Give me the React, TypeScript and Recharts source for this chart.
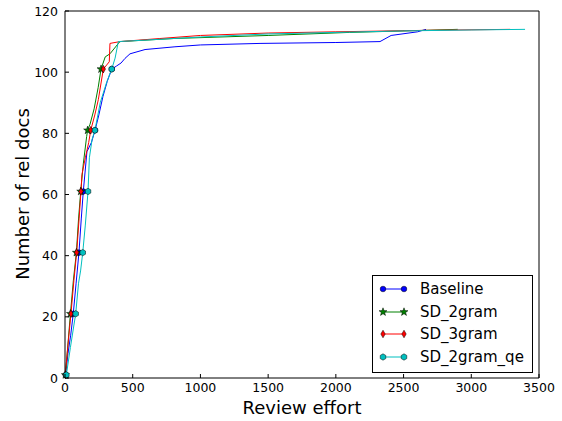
import React from "react";
import { LineChart, Line, XAxis, YAxis } from "recharts";

// x ticks / y ticks
const X_TICKS = [0, 500, 1000, 1500, 2000, 2500, 3000, 3500];
const Y_TICKS = [0, 20, 40, 60, 80, 100, 120];

// Baseline
const baselineEffort = [5, 22, 42, 61, 82, 103, 120, 135, 162, 195, 222, 250, 280, 312, 345, 380, 414, 443, 480, 591, 812, 1000, 1440, 2000, 2326, 2408, 2604, 2666];
const baselineDocs = [1, 8, 14, 21, 31, 41, 52, 61, 74, 77, 81, 86, 92, 97, 101, 102, 103, 104.5, 106, 107.4, 108.3, 108.9, 109.4, 109.7, 110, 112, 113.2, 114];

// SD_2gram
const twoGramEffort = [3, 18, 40, 62, 84, 100, 116, 135, 160, 167, 185, 215, 245, 266, 297, 332, 396, 406, 800, 1500, 2100, 2600, 2900];
const twoGramDocs = [1, 9, 21, 32, 41, 52, 61, 70, 79, 81, 83, 88, 95, 101, 105, 106, 109.5, 110, 111, 112, 113, 113.6, 114];

// SD_3gram
const threeGramEffort = [2, 20, 44, 66, 86, 104, 118, 125, 150, 175, 190, 220, 246, 283, 327, 332, 406, 700, 1000, 1500, 2000, 2700, 3287];
const threeGramDocs = [1, 10, 21, 32, 41, 52, 61, 66.5, 72, 77, 81, 86, 91, 101, 103.4, 109.4, 110, 111, 112, 112.8, 113.2, 113.7, 114];

// SD_2gram_qe
const qeEffort = [10, 40, 79, 100, 115, 131, 150, 170, 180, 200, 221, 260, 310, 345, 370, 394, 600, 1000, 1500, 2000, 2500, 3000, 3397];
const qeDocs = [1, 10, 21, 31, 35, 41, 50, 61, 72, 78, 81, 90, 97, 101, 104.6, 110, 110.5, 111.5, 112.5, 113, 113.5, 113.8, 114];

const SERIES = [
  { name: "Baseline", color: "#0000ff", shape: "circle", effort: baselineEffort, docs: baselineDocs },
  { name: "SD_2gram", color: "#008000", shape: "star", effort: twoGramEffort, docs: twoGramDocs },
  { name: "SD_3gram", color: "#ff0000", shape: "diamond", effort: threeGramEffort, docs: threeGramDocs },
  { name: "SD_2gram_qe", color: "#00bfbf", shape: "hexagon", effort: qeEffort, docs: qeDocs },
];

const FONT = "'DejaVu Sans', sans-serif";

const polyPoints = (n: number, outer: number, inner: number | null, rot = -Math.PI / 2) => {
  const pts: string[] = [];
  const count = inner == null ? n : n * 2;
  for (let i = 0; i < count; i++) {
    const r = inner == null ? outer : i % 2 === 0 ? outer : inner;
    const a = rot + (i * 2 * Math.PI) / count;
    pts.push(`${(r * Math.cos(a)).toFixed(2)},${(r * Math.sin(a)).toFixed(2)}`);
  }
  return pts.join(" ");
};

function Marker({ shape, color, x, y }: { shape: string; color: string; x: number; y: number }) {
  const common = { fill: color, stroke: "#000", strokeWidth: 0.5 };
  let el;
  if (shape === "circle") el = <circle r={2.8} {...common} />;
  else if (shape === "star") el = <polygon points={polyPoints(5, 4.2, 1.7)} {...common} />;
  else if (shape === "diamond") el = <polygon points="0,-3.8 2.2,0 0,3.8 -2.2,0" {...common} />;
  else el = <polygon points={polyPoints(6, 3.2, null)} {...common} />;
  return <g transform={`translate(${x},${y})`}>{el}</g>;
}

const makeDot = (shape: string, color: string) => (props: any) => {
  const { cx, cy, payload, index } = props;
  if (payload.docs % 20 !== 1) return <g key={index} />;
  return (
    <g key={index}>
      <Marker shape={shape} color={color} x={cx} y={cy} />
    </g>
  );
};

const BottomTick = ({ x, y, payload }: any) => (
  <g>
    <line x1={x} y1={y} x2={x} y2={y - 4} stroke="#000" />
    <text x={x} y={y + 14} textAnchor="middle" fontSize={12.5} fontFamily={FONT} fill="#000">
      {payload.value}
    </text>
  </g>
);
const TopTick = ({ x, y }: any) => <line x1={x} y1={y} x2={x} y2={y + 4} stroke="#000" />;
const LeftTick = ({ x, y, payload }: any) => (
  <g>
    <line x1={x} y1={y} x2={x + 4} y2={y} stroke="#000" />
    <text x={x - 7} y={y + 4.5} textAnchor="end" fontSize={12.5} fontFamily={FONT} fill="#000">
      {payload.value}
    </text>
  </g>
);
const RightTick = ({ x, y }: any) => <line x1={x} y1={y} x2={x - 4} y2={y} stroke="#000" />;

export default function App() {
  return (
    <div style={{ position: "absolute", left: 0, top: 0, width: 562, height: 421, background: "#fff", fontFamily: FONT }}>
      <LineChart width={562} height={421} margin={{ top: 10, right: 22, bottom: 0, left: 0 }}>
        <XAxis
          type="number"
          dataKey="effort"
          domain={[0, 3500]}
          ticks={X_TICKS}
          height={43}
          tickSize={0}
          tickMargin={0}
          tickLine={false}
          axisLine={{ stroke: "#000" }}
          tick={<BottomTick />}
          interval={0}
          allowDuplicatedCategory={false}
        />
        <XAxis
          xAxisId="top"
          orientation="top"
          type="number"
          dataKey="effort"
          domain={[0, 3500]}
          ticks={X_TICKS}
          height={1}
          tickSize={0}
          tickMargin={0}
          tickLine={false}
          axisLine={{ stroke: "#000" }}
          tick={<TopTick />}
          interval={0}
        />
        <YAxis
          type="number"
          domain={[0, 120]}
          ticks={Y_TICKS}
          width={65}
          tickSize={0}
          tickMargin={0}
          tickLine={false}
          axisLine={{ stroke: "#000" }}
          tick={<LeftTick />}
          interval={0}
        />
        <YAxis
          yAxisId="right"
          orientation="right"
          type="number"
          domain={[0, 120]}
          ticks={Y_TICKS}
          width={1}
          tickSize={0}
          tickMargin={0}
          tickLine={false}
          axisLine={{ stroke: "#000" }}
          tick={<RightTick />}
          interval={0}
        />
        {SERIES.map((s) => (
          <Line
            key={s.name}
            name={s.name}
            data={s.effort.map((e, i) => ({ effort: e, docs: s.docs[i] }))}
            dataKey="docs"
            type="linear"
            stroke={s.color}
            strokeWidth={1}
            dot={makeDot(s.shape, s.color)}
            activeDot={false}
            isAnimationActive={false}
          />
        ))}
      </LineChart>

      <div
        style={{
          position: "absolute",
          left: 22,
          top: 194,
          transform: "translate(-50%, -50%) rotate(-90deg)",
          fontSize: 18,
          whiteSpace: "nowrap",
          color: "#000",
        }}
      >
        Number of rel docs
      </div>
      <div
        style={{
          position: "absolute",
          left: 302,
          top: 407,
          transform: "translate(-50%, -50%)",
          fontSize: 18,
          whiteSpace: "nowrap",
          color: "#000",
        }}
      >
        Review effort
      </div>

      <div
        style={{
          position: "absolute",
          left: 372,
          top: 275,
          width: 159,
          height: 96,
          border: "1px solid #000",
          background: "#fff",
        }}
      >
        {SERIES.map((s, i) => (
          <div key={s.name} style={{ position: "absolute", left: 0, top: 3 + i * 22.7, height: 20, display: "flex", alignItems: "center" }}>
            <svg width={46} height={20}>
              <line x1={10} y1={10} x2={31} y2={10} stroke={s.color} strokeWidth={1} />
              <Marker shape={s.shape} color={s.color} x={10} y={10} />
              <Marker shape={s.shape} color={s.color} x={31} y={10} />
            </svg>
            <span style={{ fontSize: 15, marginLeft: 1, whiteSpace: "nowrap", color: "#000" }}>{s.name}</span>
          </div>
        ))}
      </div>
    </div>
  );
}
